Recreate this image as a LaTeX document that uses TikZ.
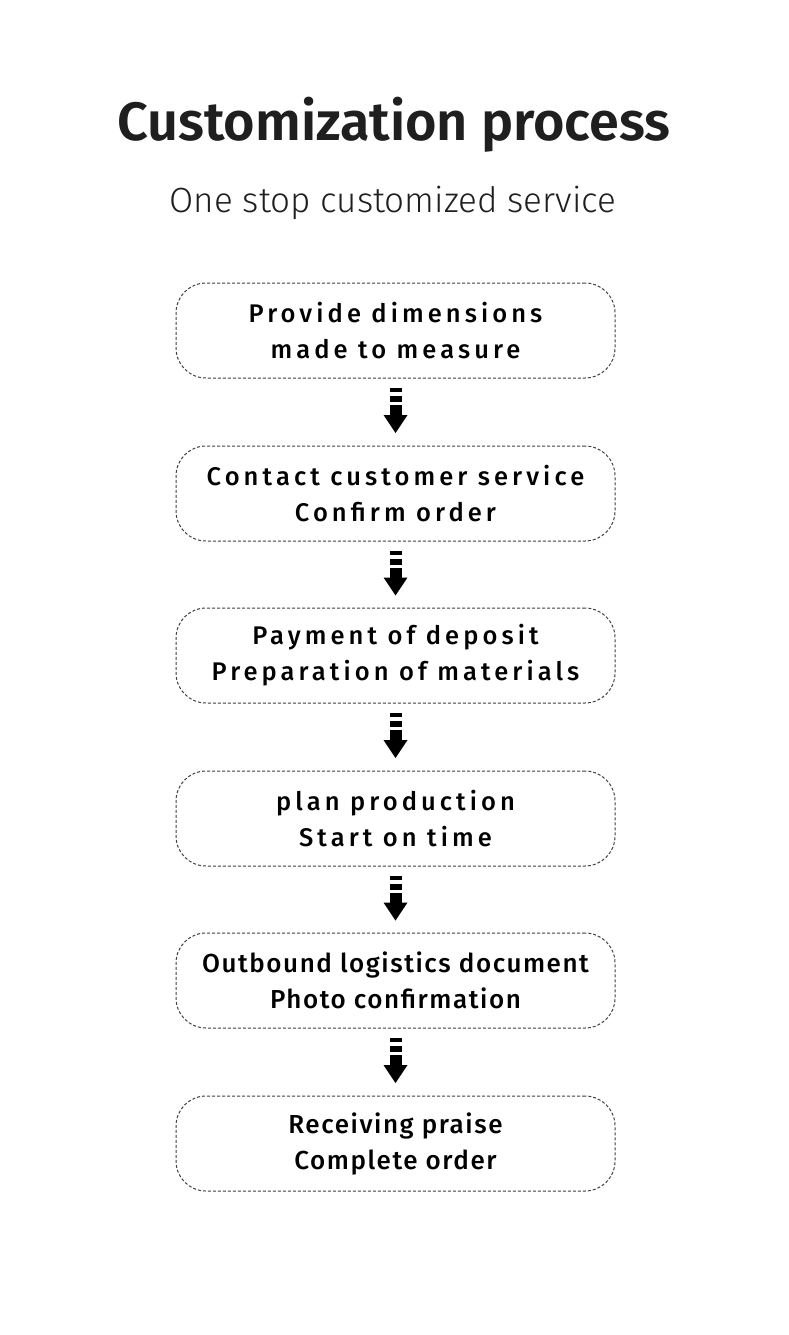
\documentclass[tikz,border=0pt]{standalone}
\usepackage{fontspec}
\usetikzlibrary{calc}
\setmainfont{Fira Sans}
\newfontfamily\titlefont{Fira Sans}[UprightFont=* SemiBold]
\newfontfamily\subfont{Fira Sans}[UprightFont=* Light]
\newfontfamily\boxfont{Fira Sans}[UprightFont=* Medium, LetterSpace=16]
\newfontfamily\boxfontn{Fira Sans}[UprightFont=* Medium, LetterSpace=6]
\begin{document}
\begin{tikzpicture}[x=1pt,y=1pt,
  stepbox/.style={draw=black!75, dash pattern=on 3pt off 2pt, line width=1pt, rounded corners=30pt,
    minimum width=439pt, minimum height=95pt, inner sep=0pt, align=center},
  spaced/.style={font=\boxfont\fontsize{25.5}{36}\selectfont},
  normal/.style={font=\boxfontn\fontsize{26}{36}\selectfont}]
\useasboundingbox (0,0) rectangle (789,-1335);
\fill[white] (0,0) rectangle (789,-1335);
\node[font=\titlefont\fontsize{54}{60}\selectfont, text=black!88] (title) at (394,-125) {Customization process};
\node[font=\subfont\fontsize{35}{40}\selectfont, text=black!88] (sub) at (393,-203) {One stop customized service};
\node[stepbox, spaced] (b1) at (395.5,-330.5) {Provide dimensions\\made to measure};
\node[stepbox, spaced] (b2) at (395.5,-493.5) {Contact customer service\\Confirm order};
\node[stepbox, spaced] (b3) at (395.5,-655.5) {Payment of deposit\\Preparation of materials};
\node[stepbox, spaced] (b4) at (395.5,-818.5) {plan production\\Start on time};
\node[stepbox, normal] (b5) at (395.5,-980.5) {Outbound logistics document\\Photo confirmation};
\node[stepbox, normal] (b6) at (395.5,-1143.5) {Receiving praise\\Complete order};
\foreach \a/\b in {b1/b2,b2/b3,b3/b4,b4/b5,b5/b6}{
  \coordinate (m) at ($(\a.south)!0.5!(\b.north)$);
  \fill[black] ([xshift=-6pt,yshift=24pt]m) rectangle ([xshift=6pt,yshift=20pt]m);
  \fill[black] ([xshift=-6pt,yshift=16pt]m) rectangle ([xshift=6pt,yshift=10pt]m);
  \fill[black] ([xshift=-6pt,yshift=7pt]m) rectangle ([xshift=6pt,yshift=-3pt]m);
  \fill[black] ([xshift=-12pt,yshift=-3pt]m) -- ([xshift=12pt,yshift=-3pt]m) -- ([yshift=-21pt]m) -- cycle;
}
\end{tikzpicture}
\end{document}
